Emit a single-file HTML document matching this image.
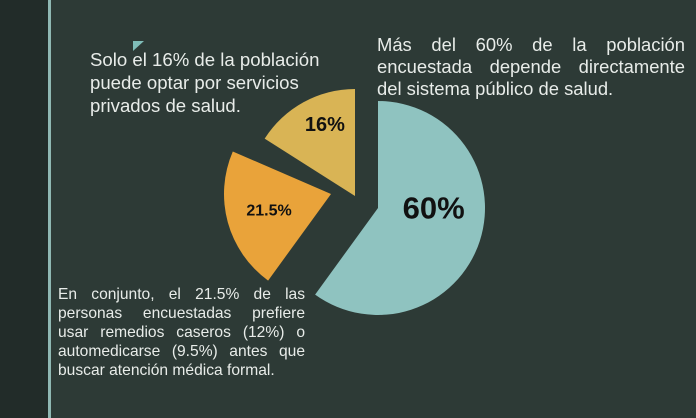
<!DOCTYPE html>
<html><head><meta charset="utf-8"><style>
html,body{margin:0;padding:0}
body{width:696px;height:418px;overflow:hidden;background:#2d3a36;position:relative;font-family:"Liberation Sans",sans-serif;color:#e8ece9}
.strip{position:absolute;left:0;top:0;width:48px;height:418px;background:#222c29}
.vline{position:absolute;left:48px;top:0;width:3px;height:418px;background:#8fb8b3}
.txt{position:absolute;white-space:nowrap}
.j{text-align:justify;text-align-last:justify}
.l{text-align:left;text-align-last:left}
</style></head><body>
<div class="strip"></div>
<div class="vline"></div>
<svg style="position:absolute;left:0;top:0" width="696" height="418">
<polygon points="133,41 144,41 133,51" fill="#7fbdb8"/>
<g id="pie"></g>
</svg>
<div class="txt" style="left:90px;top:48px;font-size:18.6px;line-height:23px">
<div>Solo el 16% de la población</div><div>puede optar por servicios</div><div>privados de salud.</div></div>
<div class="txt" style="left:377px;top:34px;width:308px;font-size:18.4px;line-height:22px">
<div class="j">Más del 60% de la población</div><div class="j">encuestada depende directamente</div><div class="l">del sistema público de salud.</div></div>
<div class="txt" style="left:58px;top:285px;width:247px;font-size:15.6px;line-height:19px">
<div class="j">En conjunto, el 21.5% de las</div><div class="j">personas encuestadas prefiere</div><div class="j">usar remedios caseros (12%) o</div><div class="j">automedicarse (9.5%) antes que</div><div class="l">buscar atención médica formal.</div></div>
<script>
const labels=["60%","21.5%","16%"];
const values=[60,21.5,16];
const starts=[0,60,84];
const colors=["#8fc3c0","#e9a33a","#d9b455"];
const centers=[[378,208],[331,194],[355,196]];
const R=107;
const g=document.getElementById('pie');
const ns="http://www.w3.org/2000/svg";
function pt(c,pct,r){const a=pct/100*2*Math.PI;return [c[0]+r*Math.sin(a),c[1]-r*Math.cos(a)];}
const fsz=[31,16,20];
const lr=[0.52,0.6,0.72];
const lshift=[-5,0,1.6];
values.forEach((v,i)=>{
 const s=starts[i],e=s+v,c=centers[i];
 const p1=pt(c,s,R),p2=pt(c,e,R);
 const path=document.createElementNS(ns,'path');
 path.setAttribute('d',`M${c[0]},${c[1]} L${p1[0]},${p1[1]} A${R},${R} 0 ${v>50?1:0} 1 ${p2[0]},${p2[1]} Z`);
 path.setAttribute('fill',colors[i]);
 
 
 g.appendChild(path);
 const m=pt(c,s+v/2+lshift[i],R*lr[i]);
 const t=document.createElementNS(ns,'text');
 t.setAttribute('x',m[0]);t.setAttribute('y',m[1]);
 t.setAttribute('text-anchor','middle');t.setAttribute('dominant-baseline','central');
 t.setAttribute('font-weight','bold');t.setAttribute('font-size',fsz[i]);
 t.setAttribute('fill','#111');t.setAttribute('font-family','Liberation Sans, sans-serif');
 
 
 t.textContent=labels[i];
 g.appendChild(t);
});
</script>
</body></html>
